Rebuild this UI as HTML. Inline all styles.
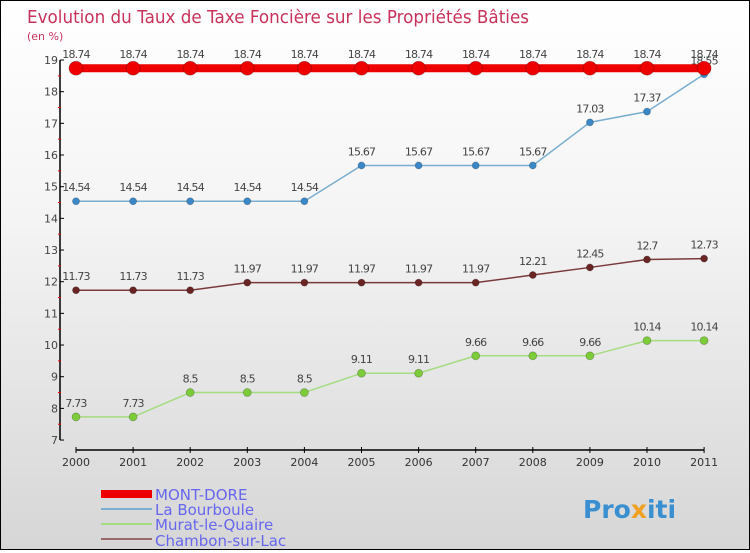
<!DOCTYPE html>
<html><head><meta charset="utf-8">
<style>
html,body{margin:0;padding:0}
body{width:750px;height:550px;overflow:hidden;font-family:"DejaVu Sans","Liberation Sans",sans-serif}
#wrap{position:relative;width:748px;height:548px;border:1px solid #000;background:linear-gradient(#ffffff 0%,#f4f4f4 40%,#d6d6d6 100%)}
svg text{font-family:"DejaVu Sans","Liberation Sans",sans-serif}
</style></head>
<body>
<div id="wrap">
<svg id="chart" width="748" height="548" xmlns="http://www.w3.org/2000/svg">
<text x="26" y="22" font-size="18" fill="#c8325a" textLength="502" lengthAdjust="spacingAndGlyphs">Evolution du Taux de Taxe Foncière sur les Propriétés Bâties</text>
<text x="26" y="39" font-size="11" fill="#c8325a">(en %)</text>
<g id="axes"></g>
<g id="series"></g>
<g id="legend">
<rect x="100" y="489" width="51" height="8" fill="#ee0000"/>
<text x="154" y="499" font-size="15" fill="#6666ee">MONT-DORE</text>
<line x1="100" y1="508" x2="151" y2="508" stroke="#7aaed0" stroke-width="2"/>
<text x="154" y="514" font-size="15" fill="#6666ee">La Bourboule</text>
<line x1="100" y1="523" x2="151" y2="523" stroke="#a6dc80" stroke-width="2"/>
<text x="154" y="529" font-size="15" fill="#6666ee">Murat-le-Quaire</text>
<line x1="100" y1="538" x2="151" y2="538" stroke="#9a6a6a" stroke-width="2"/>
<text x="154" y="545" font-size="15" fill="#6666ee">Chambon-sur-Lac</text>
</g>
<text x="582" y="517" font-size="25" font-weight="bold" fill="#3a8fd0">Pro<tspan fill="#f0a020">x</tspan>iti</text>
</svg>
</div>
<script>
const years=[2000,2001,2002,2003,2004,2005,2006,2007,2008,2009,2010,2011];
const yTicks=[7,8,9,10,11,12,13,14,15,16,17,18,19];
const montDore=[18.74,18.74,18.74,18.74,18.74,18.74,18.74,18.74,18.74,18.74,18.74,18.74];
const laBourboule=[14.54,14.54,14.54,14.54,14.54,15.67,15.67,15.67,15.67,17.03,17.37,18.55];
const muratLeQuaire=[7.73,7.73,8.5,8.5,8.5,9.11,9.11,9.66,9.66,9.66,10.14,10.14];
const chambonSurLac=[11.73,11.73,11.73,11.97,11.97,11.97,11.97,11.97,12.21,12.45,12.7,12.73];
const NS="http://www.w3.org/2000/svg";
function xS(i){return 75+i*57.1;}
function yS(v){return 59+(19-v)*31.67;}
function mk(tag,attrs,parent){const e=document.createElementNS(NS,tag);for(const k in attrs)e.setAttribute(k,attrs[k]);parent.appendChild(e);return e;}
const axes=document.getElementById('axes');
let l=mk('line',{x1:59,y1:yS(19),x2:59,y2:yS(7),stroke:'#000','stroke-width':1.5},axes);


l=mk('line',{x1:75,y1:449,x2:xS(years.length-1),y2:449,stroke:'#000','stroke-width':1.5},axes);


yTicks.forEach(v=>{
 const t=mk('line',{x1:59,y1:yS(v),x2:63,y2:yS(v),stroke:'#000'},axes);
 
 
 if(v<19){const m=mk('line',{x1:57,y1:yS(v+0.5),x2:60,y2:yS(v+0.5),stroke:'#e00'},axes);
 
 }
 const tx=mk('text',{x:57,y:yS(v)+4,'font-size':11,fill:'#444','text-anchor':'end'},axes);
 tx.textContent=v;
 
 
});
years.forEach((yr,i)=>{
 const t=mk('line',{x1:xS(i),y1:446,x2:xS(i),y2:452,stroke:'#000'},axes);
 
 
 const tx=mk('text',{x:xS(i),y:465,'font-size':11,fill:'#333','text-anchor':'middle'},axes);
 tx.textContent=yr;
 
 
});
const sg=document.getElementById('series');
function series(vals,name,color,fill,w,r){
 const g=mk('g',{},sg);
 
 
 const p=mk('polyline',{points:vals.map((v,i)=>xS(i)+','+yS(v)).join(' '),fill:'none',stroke:color,'stroke-width':w},g);
 
 
 vals.forEach((v,i)=>{
  const c=mk('circle',{cx:xS(i),cy:yS(v),r:r,fill:fill,stroke:'rgba(0,0,0,0.25)','stroke-width':0.8},g);
  
  
  const t=mk('text',{x:xS(i),y:yS(v)-10,'font-size':11,fill:'#444','text-anchor':'middle','letter-spacing':'-0.8'},g);
  t.textContent=String(v);
  
  
 });
}
series(muratLeQuaire,'murat-le-quaire-series','#a6dc80','#7ccc3a',1.5,4);
series(chambonSurLac,'chambon-sur-lac-series','#7a3a3a','#6a2424',1.5,3.5);
series(laBourboule,'la-bourboule-series','#7aaed0','#3a88c8',1.5,3.5);
series(montDore,'mont-dore-series','#ee0000','#ee0000',8,7);
</script>
</body></html>
